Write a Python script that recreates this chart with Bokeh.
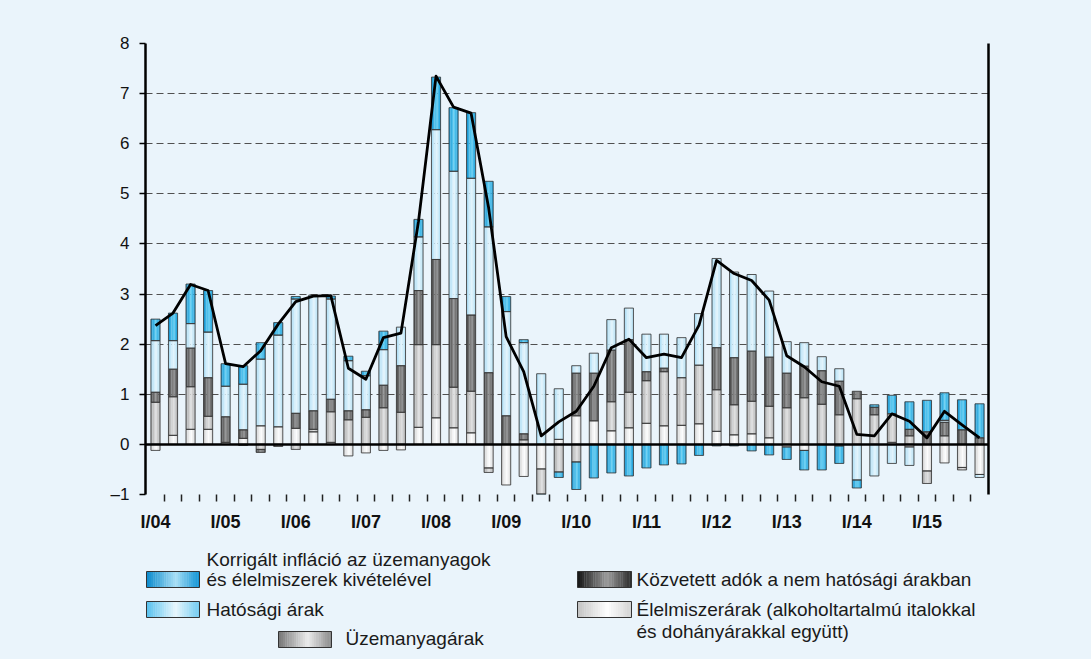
import numpy as np
from bokeh.plotting import figure
from bokeh.models import Range1d, FixedTicker, LinearAxis, Span, ColumnDataSource
from bokeh.layouts import column
from bokeh.embed import file_html
from bokeh.resources import INLINE
from bokeh.core.properties import value

# ---------------- data (percentage-point contributions, quarterly I/04 - IV/15) ----------------
year_labels = ["I/04", "I/05", "I/06", "I/07", "I/08", "I/09",
               "I/10", "I/11", "I/12", "I/13", "I/14", "I/15"]

elelmiszer = [-0.12, 0.18, 0.30, 0.30, 0.04, 0.12, 0.37, 0.35,
              0.32, 0.25, 0.04, -0.23, -0.17, -0.12, -0.11, 0.34,
              0.53, 0.33, 0.23, -0.47, -0.81, -0.64, -0.49, 0.10,
              0.57, 0.47, 0.27, 0.33, 0.42, 0.37, 0.38, 0.41,
              0.26, 0.19, 0.21, 0.13, -0.05, -0.12, 0.00, -0.03,
              0.00, 0.00, 0.04, -0.05, -0.53, -0.37, -0.46, -0.60]
uzemanyag = [0.84, 0.77, 0.85, 0.26, 0.00, -0.02, -0.10, 0.00,
             -0.10, 0.05, 0.61, 0.49, 0.54, 0.73, 0.64, 1.65,
             1.46, 0.81, 0.83, -0.09, 0.00, 0.09, -0.50, -0.55,
             -0.35, 0.00, 0.58, 0.71, 0.85, 1.08, 0.95, 1.17,
             0.83, 0.60, 0.65, 0.63, 0.73, 0.93, 0.80, 0.59,
             0.91, 0.59, 0.57, 0.17, -0.25, 0.17, -0.05, 0.00]
kozvetett_adok = [0.20, 0.55, 0.77, 0.77, 0.51, 0.17, -0.06, -0.04,
                  0.30, 0.37, 0.25, 0.18, 0.15, 0.45, 0.93, 1.08,
                  1.70, 1.77, 1.52, 1.43, 0.57, 0.12, 0.00, 0.00,
                  0.85, 0.95, 1.03, 1.05, 0.18, 0.07, 0.00, 0.00,
                  0.84, 0.94, 1.00, 0.98, 0.69, 0.63, 0.67, 0.67,
                  0.15, 0.15, 0.00, 0.13, 0.25, 0.27, 0.29, 0.13]
hatosagi = [1.03, 0.57, 0.49, 0.91, 0.61, 0.91, 1.33, 1.83,
            2.28, 2.31, 2.00, 1.00, 0.68, 0.71, 0.77, 1.07,
            2.59, 2.54, 2.73, 2.91, 2.08, 1.82, 1.41, 1.01,
            0.15, 0.40, 0.61, 0.63, 0.75, 0.68, 0.80, 1.03,
            1.78, 1.71, 1.53, 1.32, 0.63, 0.47, 0.28, 0.25,
            -0.71, -0.63, -0.38, -0.37, 0.00, 0.04, 0.00, -0.06]
korrigalt = [0.43, 0.55, 0.79, 0.83, 0.45, 0.37, 0.33, 0.25,
             0.05, 0.00, 0.06, 0.09, 0.09, 0.37, 0.00, 0.35,
             1.05, 1.27, 1.31, 0.91, 0.30, 0.06, -0.25, -0.11,
             -0.55, -0.67, -0.57, -0.63, -0.47, -0.41, -0.39, -0.22,
             -0.03, -0.03, -0.13, -0.21, -0.25, -0.39, -0.51, -0.35,
             -0.16, 0.05, 0.37, 0.55, 0.63, 0.55, 0.60, 0.68]
inflacio = [2.37, 2.62, 3.19, 3.07, 1.61, 1.55, 1.87, 2.40,
            2.85, 2.96, 2.97, 1.52, 1.30, 2.13, 2.22, 4.45,
            7.35, 6.73, 6.61, 4.72, 2.15, 1.45, 0.17, 0.45,
            0.66, 1.16, 1.93, 2.10, 1.73, 1.80, 1.73, 2.38,
            3.67, 3.41, 3.27, 2.88, 1.77, 1.55, 1.25, 1.16,
            0.20, 0.17, 0.61, 0.46, 0.13, 0.66, 0.39, 0.13]

legend_korr = ["Korrigált infláció az üzemanyagok", "és élelmiszerek kivételével"]
legend_hat = ["Hatósági árak"]
legend_uzem = ["Üzemanyagárak"]
legend_adok = ["Közvetett adók a nem hatósági árakban"]
legend_elel = ["Élelmiszerárak (alkoholtartalmú italokkal", "és dohányárakkal együtt)"]

# ---------------- styling ----------------
BG = "#EAF4FB"
FONT = "Liberation Sans, Arial, sans-serif"
LEFT, RIGHT = 145, 988          # frame edges in page pixels

# stacking order (bottom -> top) and bar gradients (left edge, centre, right edge)
series = [
    (elelmiszer, ("#cfcfcf", "#ffffff", "#dadada")),
    (uzemanyag, ("#a3a3a3", "#e2e2e2", "#afafaf")),
    (kozvetett_adok, ("#474747", "#8f8f8f", "#505050")),
    (hatosagi, ("#a6dbf3", "#e6f6fd", "#b2e0f4")),
    (korrigalt, ("#1393d0", "#63cef3", "#1c9fda")),
]


def hex2rgb(h):
    return tuple(int(h[i:i + 2], 16) for i in (1, 3, 5))


def mix(a, b, t):
    ra, rb = hex2rgb(a), hex2rgb(b)
    return "#%02x%02x%02x" % tuple(int(round(x + (y - x) * t)) for x, y in zip(ra, rb))


def grad(stops, t):
    l, c, r = stops
    if t < 0.55:
        return mix(l, c, t / 0.55)
    return mix(c, r, (t - 0.55) / 0.45)


n = len(inflacio)
idx = np.arange(n, dtype=float)

# ---------------- main figure ----------------
p = figure(width=1091, height=540, x_range=Range1d(-0.57, 47.51), y_range=Range1d(-1, 8),
           output_backend="svg", toolbar_location=None,
           min_border_left=LEFT, min_border_right=1091 - RIGHT, min_border_top=43,
           min_border_bottom=46,
           background_fill_color=BG, border_fill_color=BG, outline_line_color=None)

p.xgrid.visible = False
p.ygrid.ticker = FixedTicker(ticks=list(range(-1, 9)))
p.ygrid.grid_line_color = "#505050"
p.ygrid.grid_line_dash = "7 4"
p.ygrid.grid_line_width = 1

label_idx = list(range(0, n, 4))
p.xaxis.ticker = FixedTicker(ticks=label_idx, minor_ticks=[i + 0.5 for i in range(n - 1)])
p.xaxis.major_label_overrides = {i: lab for i, lab in zip(label_idx, year_labels)}
p.xaxis.axis_line_color = None
p.xaxis.major_tick_line_color = None
p.xaxis.major_tick_out = 0
p.xaxis.major_tick_in = 0
p.xaxis.minor_tick_line_color = "#222222"
p.xaxis.minor_tick_line_width = 1.5
p.xaxis.minor_tick_out = 7
p.xaxis.minor_tick_in = 0
p.xaxis.major_label_standoff = 10
p.xaxis.major_label_text_font = FONT
p.xaxis.major_label_text_font_size = "18px"
p.xaxis.major_label_text_font_style = "bold"
p.xaxis.major_label_text_color = "#111111"

p.yaxis.ticker = FixedTicker(ticks=list(range(-1, 9)))
p.yaxis.major_label_overrides = {-1: "–1"}
p.yaxis.axis_line_color = "black"
p.yaxis.axis_line_width = 2.5
p.yaxis.major_tick_line_color = "black"
p.yaxis.major_tick_line_width = 1.5
p.yaxis.major_tick_out = 6
p.yaxis.major_tick_in = 0
p.yaxis.minor_tick_line_color = None
p.yaxis.major_label_standoff = 10
p.yaxis.major_label_text_font = FONT
p.yaxis.major_label_text_font_size = "17px"
p.yaxis.major_label_text_color = "#111111"

right_axis = LinearAxis(ticker=FixedTicker(ticks=[]), axis_line_color="black", axis_line_width=2.5,
                        major_tick_line_color=None, minor_tick_line_color=None,
                        major_label_text_font_size="0px")
p.add_layout(right_axis, "right")

# stacked bars (positives up, negatives down) with emulated gradient strips
W = 0.52
NS = 6
pos_base = np.zeros(n)
neg_base = np.zeros(n)
sx, sb, st, sw, sc = [], [], [], [], []
ox, ob, ot = [], [], []
for vals, stops in series:
    v = np.array(vals, dtype=float)
    bottom = np.where(v >= 0, pos_base, neg_base + v)
    top = np.where(v >= 0, pos_base + v, neg_base)
    pos_base = pos_base + np.where(v > 0, v, 0)
    neg_base = neg_base + np.where(v < 0, v, 0)
    keep = np.abs(v) > 1e-9
    for k in range(NS):
        t = (k + 0.5) / NS
        off = -W / 2 + t * W
        sx.extend(list(idx[keep] + off))
        sb.extend(list(bottom[keep]))
        st.extend(list(top[keep]))
        sw.extend([W / NS * 1.08] * int(keep.sum()))
        sc.extend([grad(stops, t)] * int(keep.sum()))
    ox.extend(list(idx[keep]))
    ob.extend(list(bottom[keep]))
    ot.extend(list(top[keep]))

strip_src = ColumnDataSource(dict(x=sx, bottom=sb, top=st, w=sw, c=sc))
p.vbar(x="x", width="w", bottom="bottom", top="top", fill_color="c", line_color=None,
       source=strip_src)
outline_src = ColumnDataSource(dict(x=ox, bottom=ob, top=ot))
p.vbar(x="x", width=W, bottom="bottom", top="top", fill_color=None,
       line_color="#383838", line_width=1, line_alpha=0.85, source=outline_src)

p.add_layout(Span(location=0, dimension="width", line_color="black", line_width=2.5))

p.line(x=idx, y=inflacio, line_color="black", line_width=2.8, line_join="round")

# ---------------- legend figure (page-pixel coordinates; frame aligned with main frame) ----------------
p2 = figure(width=1091, height=119, x_range=Range1d(LEFT, RIGHT), y_range=Range1d(659, 540),
            output_backend="svg", toolbar_location=None, x_axis_location=None,
            y_axis_location=None, min_border_left=LEFT, min_border_right=1091 - RIGHT,
            min_border_top=0, min_border_bottom=0, background_fill_color=BG,
            border_fill_color=BG, outline_line_color=None)
p2.grid.visible = False

swatches = [
    ((146, 199, 571, 587), ("#0a8acc", "#a8dff5", "#0c92d4")),
    ((146, 199, 601, 617), ("#58c1ee", "#e9f7fd", "#6ecaf0")),
    ((278, 331, 631, 647), ("#767676", "#ececec", "#888888")),
    ((577, 631, 571, 587), ("#141414", "#9c9c9c", "#2a2a2a")),
    ((577, 631, 601, 617), ("#c2c2c2", "#ffffff", "#d2d2d2")),
]
NL = 24
ql, qr, qt, qb, qc = [], [], [], [], []
for (x0, x1, y0, y1), stops in swatches:
    dx = (x1 - x0) / NL
    for k in range(NL):
        ql.append(x0 + k * dx)
        qr.append(x0 + (k + 1) * dx + 0.3)
        qt.append(y0)
        qb.append(y1)
        qc.append(grad(stops, (k + 0.5) / NL))
p2.quad(left=ql, right=qr, top=qt, bottom=qb, fill_color=qc, line_color=None)
p2.quad(left=[s[0][0] for s in swatches], right=[s[0][1] for s in swatches],
        top=[s[0][2] for s in swatches], bottom=[s[0][3] for s in swatches],
        fill_color=None, line_color="#333333", line_width=1)

tx = [206, 206, 206, 345, 636, 636, 636]
ty = [559, 579, 609, 638, 579, 609, 631]
tt = [legend_korr[0], legend_korr[1], legend_hat[0], legend_uzem[0],
      legend_adok[0], legend_elel[0], legend_elel[1]]
p2.text(x=tx, y=ty, text=tt, text_font=value(FONT), text_font_size="19px",
        text_baseline="middle", text_align="left", text_color="#1a1a1a")

layout = column(p, p2, spacing=0)

html = file_html(layout, INLINE)
html = html.replace("</head>", "<style>body{background:%s;}</style></head>" % BG, 1)
open("out.html", "w").write(html)
